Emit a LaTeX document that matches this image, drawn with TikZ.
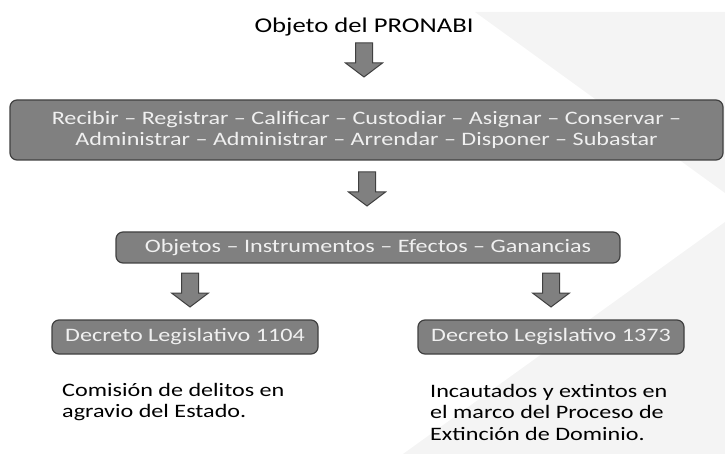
\documentclass[tikz,border=0pt]{standalone}
\usepackage{fontspec}
\setmainfont{Carlito}[FakeStretch=1.27]
\usetikzlibrary{positioning}
\definecolor{boxgray}{RGB}{128,128,128}
\definecolor{edgegray}{RGB}{64,64,64}
\definecolor{bggray}{RGB}{244,244,244}
\tikzset{box/.style={draw=edgegray,fill=boxgray,rounded corners=7pt,line width=1.2pt,text=white!94!black,align=center,inner sep=0pt},
  downarrow/.pic={\draw[draw=edgegray,fill=boxgray,line width=1pt]
    (-8.5,-17) -- (8.5,-17) -- (8.5,3) -- (18.5,3) -- (0,17) -- (-18.5,3) -- (-8.5,3) -- cycle;}}
\begin{document}
\begin{tikzpicture}[x=1pt,y=-1pt,font=\fontsize{19}{21.5}\selectfont]
\useasboundingbox (0,0) rectangle (725,454);
% background
\fill[bggray] (475,12) -- (725,12) -- (725,193) -- cycle;
\fill[bggray] (725,222) -- (725,454) -- (403,454) -- cycle;
%
\node (obj) [font=\fontsize{21}{24}\selectfont] at (364,27) {Objeto del PRONABI};
\pic (a1) at (364,60) {downarrow};
\node (acts) [box,minimum width=713pt,minimum height=60pt] at (366.5,130) {Recibir -- Registrar -- Calificar -- Custodiar -- Asignar -- Conservar --\\Administrar -- Administrar -- Arrendar -- Disponer -- Subastar};
\pic (a2) at (367,189) {downarrow};
\node (bienes) [box,minimum width=504pt,minimum height=31pt] at (368,247.5) {Objetos -- Instrumentos -- Efectos -- Ganancias};
\pic (a3) at (190,290) {downarrow};
\pic (a4) at (551,290) {downarrow};
\node (dl1) [box,minimum width=266pt,minimum height=34pt] at (185,337) {Decreto Legislativo 1104};
\node (dl2) [box,minimum width=266pt,minimum height=34pt] at (551,337) {Decreto Legislativo 1373};
%
\node (t1) [anchor=west,align=left,inner sep=0pt] at (62,402) {Comisión de delitos en\\agravio del Estado.};
\node (t2) [anchor=west,align=left,inner sep=0pt] at (430,412) {Incautados y extintos en\\el marco del Proceso de\\Extinción de Dominio.};
\end{tikzpicture}
\end{document}
